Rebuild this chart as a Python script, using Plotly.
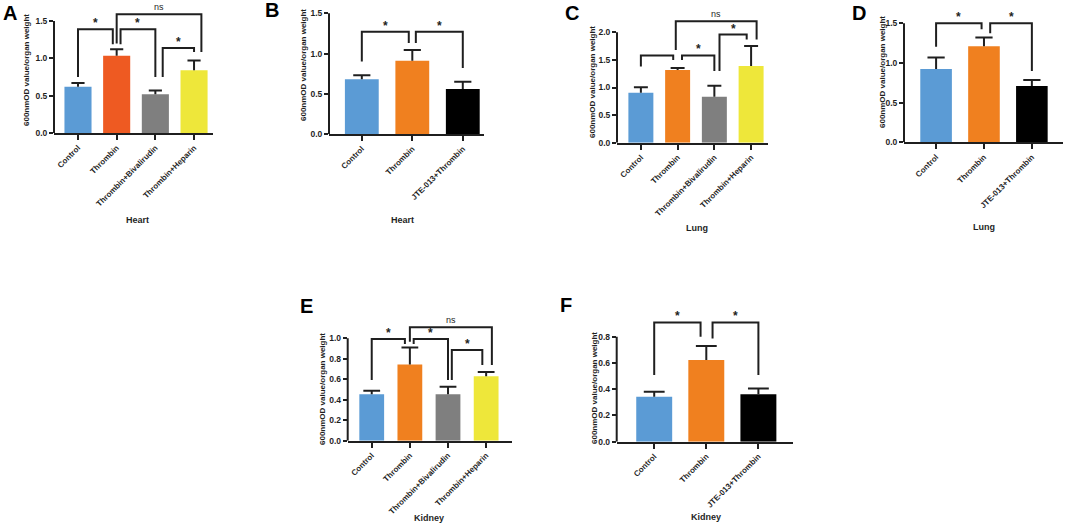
import plotly.graph_objects as go

W, H = 1065, 526

# ---------------- data ----------------
groups4 = ["Control", "Thrombin", "Thrombin+Bivalirudin", "Thrombin+Heparin"]
groups3 = ["Control", "Thrombin", "JTE-013+Thrombin"]

a_mean = [0.62, 1.035, 0.52, 0.84]
a_sd = [0.05, 0.085, 0.05, 0.13]
b_mean = [0.68, 0.91, 0.56]
b_sd = [0.05, 0.135, 0.09]
c_mean = [0.906, 1.317, 0.833, 1.39]
c_sd = [0.10, 0.035, 0.20, 0.36]
d_mean = [0.924, 1.21, 0.71]
d_sd = [0.146, 0.11, 0.076]
e_mean = [0.453, 0.743, 0.453, 0.629]
e_sd = [0.036, 0.166, 0.075, 0.042]
f_mean = [0.343, 0.622, 0.361]
f_sd = [0.038, 0.107, 0.045]

organ_titles = ["Heart", "Heart", "Lung", "Lung", "Kidney", "Kidney"]
panel_letters = ["A", "B", "C", "D", "E", "F"]
y_title = "600nmOD value/organ weight"

y_ticks_15 = [0.0, 0.5, 1.0, 1.5]
y_ticks_20 = [0.0, 0.5, 1.0, 1.5, 2.0]
y_ticks_10 = [0.0, 0.2, 0.4, 0.6, 0.8, 1.0]
y_ticks_08 = [0.0, 0.2, 0.4, 0.6, 0.8]

# significance brackets: (left cat, left leg bottom, right cat, right leg bottom, top, label)
a_sig = [(0, 0.75, 1, 1.19, 1.39, "*"), (1, 1.19, 2, 0.75, 1.39, "*"),
         (1, 1.20, 3, 1.085, 1.59, "ns"), (2, 0.75, 3, 1.085, 1.14, "*")]
b_sig = [(0, 0.90, 1, 1.13, 1.27, "*"), (1, 1.13, 2, 0.82, 1.27, "*")]
c_sig = [(0, 1.38, 1, 1.50, 1.58, ""), (1, 1.50, 2, 1.30, 1.58, "*"),
         (1, 1.68, 3, 1.87, 2.20, "ns"), (2, 1.30, 3, 1.87, 1.96, "*")]
d_sig = [(0, 1.205, 1, 1.425, 1.50, "*"), (1, 1.375, 2, 0.90, 1.50, "*")]
e_sig = [(0, 0.593, 1, 0.945, 0.993, "*"), (1, 0.945, 2, 0.593, 0.993, "*"),
         (1, 0.967, 3, 0.74, 1.107, "ns"), (2, 0.593, 3, 0.74, 0.886, "*")]
f_sig = [(0, 0.508, 1, 0.80, 0.909, "*"), (1, 0.787, 2, 0.508, 0.909, "*")]

# ---------------- styling / layout ----------------
BLUE, ORANGE, RED_ORANGE, GREY, YELLOW, BLACK = "#5B9BD5", "#F0801F", "#EE5A22", "#7F7F7F", "#EEE73A", "#000000"
INK = "#1f1f1f"
FONT = "Liberation Sans, Arial, sans-serif"

# leg x offsets (category units) per bracket (left offset, right offset)
a_off = [(0, -0.10), (0.10, 0), (0, 0.19), (0.19, 0)]
b_off = [(0, -0.07), (0.07, 0)]
c_off = [(0, -0.12), (0.12, 0), (-0.05, 0.15), (0.14, -0.12)]
d_off = [(0, -0.05), (0.13, 0)]
e_off = [(0, -0.13), (0.10, 0), (0, 0.15), (0.10, -0.10)]
f_off = [(0, -0.11), (0.12, 0)]

panels = [
    dict(cats=groups4, mean=a_mean, sd=a_sd, colors=[BLUE, RED_ORANGE, GREY, YELLOW], yt=y_ticks_15,
         sig=a_sig, off=a_off, xl=54, xr=213, y0=133, ytp=21, ytop=1.75, xr_=[-0.62, 3.49], bw=0.70, cap=0.17,
         let=(9.5, 12.5), org=(137, 220), yti=(26, 70)),
    dict(cats=groups3, mean=b_mean, sd=b_sd, colors=[BLUE, ORANGE, BLACK], yt=y_ticks_15,
         sig=b_sig, off=b_off, xl=329, xr=484, y0=134, ytp=13.3, ytop=1.55, xr_=[-0.65, 2.42], bw=0.67, cap=0.17,
         let=(272, 10.5), org=(402, 220), yti=(303, 65)),
    dict(cats=groups4, mean=c_mean, sd=c_sd, colors=[BLUE, ORANGE, GREY, YELLOW], yt=y_ticks_20,
         sig=c_sig, off=c_off, xl=617, xr=768, y0=142.7, ytp=32.3, ytop=2.3, xr_=[-0.65, 3.46], bw=0.68, cap=0.19,
         let=(572, 12.5), org=(697, 228), yti=(592, 82)),
    dict(cats=groups3, mean=d_mean, sd=d_sd, colors=[BLUE, ORANGE, BLACK], yt=y_ticks_15,
         sig=d_sig, off=d_off, xl=904, xr=1063, y0=142.3, ytp=23.3, ytop=1.55, xr_=[-0.67, 2.65], bw=0.66, cap=0.18,
         let=(859, 12.5), org=(984, 227), yti=(882, 72)),
    dict(cats=groups4, mean=e_mean, sd=e_sd, colors=[BLUE, ORANGE, GREY, YELLOW], yt=y_ticks_10,
         sig=e_sig, off=e_off, xl=347.7, xr=511.7, y0=440.7, ytp=338.3, ytop=1.15, xr_=[-0.63, 3.67], bw=0.65, cap=0.22,
         let=(306, 306), org=(429, 518), yti=(322, 389)),
    dict(cats=groups3, mean=f_mean, sd=f_sd, colors=[BLUE, ORANGE, BLACK], yt=y_ticks_08,
         sig=f_sig, off=f_off, xl=616.7, xr=793.3, y0=441.7, ytp=336.7, ytop=0.95, xr_=[-0.72, 2.67], bw=0.69, cap=0.20,
         let=(566, 305), org=(706, 517), yti=(594, 388)),
]

fig = go.Figure()
shapes = []
annotations = []

for i, p in enumerate(panels):
    k = "" if i == 0 else str(i + 1)
    xa, ya = "x" + k, "y" + k
    ppu = (p["y0"] - p["ytp"]) / p["yt"][-1]
    top_px = p["y0"] - p["ytop"] * ppu
    xdom = [p["xl"] / W, p["xr"] / W]
    ydom = [1 - p["y0"] / H, 1 - top_px / H]

    fig.add_trace(go.Bar(
        x=p["cats"], y=p["mean"], xaxis=xa, yaxis=ya,
        marker=dict(color=p["colors"], line=dict(width=0)),
        width=p["bw"], showlegend=False, hoverinfo="skip",
        error_y=dict(type="data", symmetric=False, array=p["sd"], arrayminus=[0] * len(p["sd"]),
                     thickness=2, width=0, color=INK),
    ))
    # error bar caps (top only)
    for j, (m, s) in enumerate(zip(p["mean"], p["sd"])):
        shapes.append(dict(type="line", xref=xa, yref=ya, x0=j - p["cap"], x1=j + p["cap"],
                           y0=m + s, y1=m + s, line=dict(color=INK, width=2)))

    axis_x = dict(domain=xdom, anchor=ya, type="category", range=p["xr_"], showgrid=False, zeroline=False,
                  showline=True, linecolor=INK, linewidth=2, ticks="outside", ticklen=5, tickwidth=1.5,
                  tickcolor=INK, tickangle=-45,
                  tickfont=dict(family=FONT, size=8, color=INK, weight="bold"), automargin=False)
    axis_y = dict(domain=ydom, anchor=xa, range=[0, p["ytop"]], showgrid=False, zeroline=False,
                  showline=False, ticks="outside", ticklen=4, tickwidth=1.5, tickcolor=INK,
                  tickvals=p["yt"], tickformat=".1f",
                  tickfont=dict(family=FONT, size=8.5, color=INK, weight="bold"), automargin=False)
    fig.update_layout(**{"xaxis" + k: axis_x, "yaxis" + k: axis_y})

    # y axis line only up to top tick
    shapes.append(dict(type="line", xref=xa + " domain", yref=ya, x0=0, x1=0, y0=0, y1=p["yt"][-1],
                       line=dict(color=INK, width=2)))

    for (sig, off) in zip(p["sig"], p["off"]):
        c1, b1, c2, b2, top, lab = sig
        x1 = c1 + off[0]
        x2 = c2 + off[1]
        shapes.append(dict(type="path", xref=xa, yref=ya,
                           path=f"M {x1},{b1} L {x1},{top} L {x2},{top} L {x2},{b2}",
                           line=dict(color=INK, width=2)))
        if lab:
            annotations.append(dict(xref=xa, yref=ya, x=(x1 + x2) / 2, y=top, text=lab, showarrow=False,
                                    yanchor="bottom", xanchor="center", yshift=-3 if lab == "*" else 0,
                                    font=dict(family=FONT, size=12 if lab == "*" else 9, color=INK,
                                              weight="bold" if lab == "*" else "normal")))

    lx, ly = p["let"]
    annotations.append(dict(xref="paper", yref="paper", x=lx / W, y=1 - ly / H, text=panel_letters[i],
                            showarrow=False, xanchor="center", yanchor="middle",
                            font=dict(family=FONT, size=20, color="#000", weight="bold")))
    ox, oy = p["org"]
    annotations.append(dict(xref="paper", yref="paper", x=ox / W, y=1 - oy / H, text=organ_titles[i],
                            showarrow=False, xanchor="center", yanchor="middle",
                            font=dict(family=FONT, size=9, color=INK, weight="bold")))
    tx, ty = p["yti"]
    annotations.append(dict(xref="paper", yref="paper", x=tx / W, y=1 - ty / H, text=y_title,
                            showarrow=False, xanchor="center", yanchor="middle", textangle=-90,
                            font=dict(family=FONT, size=8, color=INK, weight="bold")))

fig.update_layout(width=W, height=H, margin=dict(l=0, r=0, t=0, b=0), paper_bgcolor="white",
                  plot_bgcolor="white", shapes=shapes, annotations=annotations, bargap=0.3)

fig.write_html("out.html", config={"displayModeBar": False},
               post_script="document.body.style.margin='0';document.body.style.overflow='hidden';")
